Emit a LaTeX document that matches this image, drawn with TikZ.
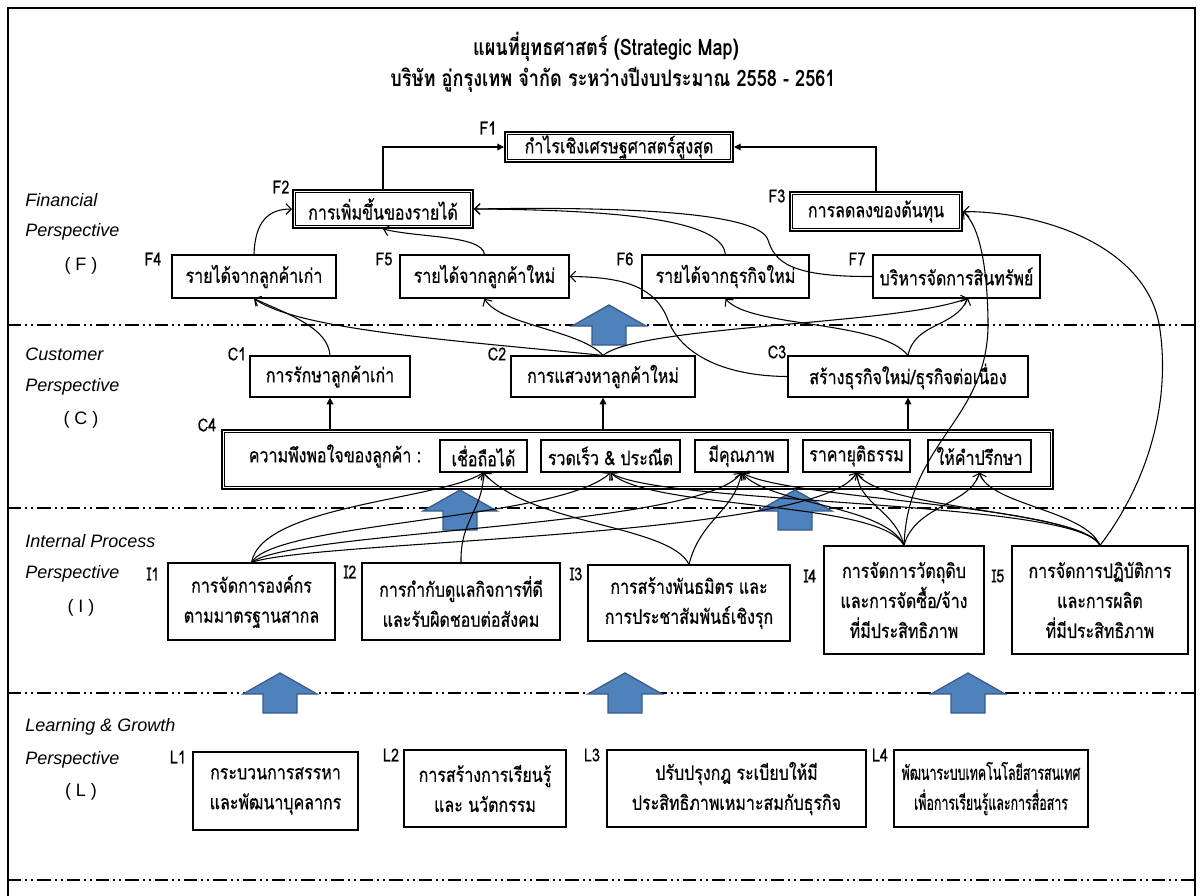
\documentclass[tikz,border=0pt]{standalone}
\usepackage{fontspec}
\setmainfont{Loma}[Script=Thai,FakeStretch=0.8,UprightFeatures={FakeBold=0.5}]
\newfontfamily\narrowthai{Loma}[Script=Thai,FakeStretch=0.62,FakeBold=0.5]
\newfontfamily\perspfam{Liberation Sans}
\usetikzlibrary{arrows.meta}
\definecolor{arrowblue}{HTML}{4F81BD}
\definecolor{arrowedge}{HTML}{385D8A}
\newcommand\boxfont{\fontsize{15}{22.5}\selectfont}
\newcommand\narrowfont{\narrowthai\fontsize{15}{22.5}\selectfont}
\newcommand\labfont{\fontsize{13.5}{15}\selectfont}
\newcommand\titlefont{\bfseries\fontsize{17}{19}\selectfont}
\newcommand\perspfont{\perspfam\itshape\fontsize{13.5}{15}\selectfont}
\newcommand\perspup{\perspfam\fontsize{13.5}{15}\selectfont}
\newcommand\innerframe[1]{\draw[line width=0.5pt] ([shift={(2.6pt,2.6pt)}]#1.south west) rectangle ([shift={(-2.6pt,-2.6pt)}]#1.north east);}
\begin{document}
\begin{tikzpicture}[x=0.75pt,y=-0.75pt,
  box/.style={draw,line width=0.9pt,fill=white,inner sep=0pt,align=center,font=\boxfont},
  dbox/.style={box,line width=1.5pt},
  lab/.style={font=\labfont,inner sep=0pt},
  persp/.style={font=\perspfont,anchor=west,inner sep=0pt},
  perspu/.style={font=\perspup,inner sep=0pt},
  cur/.style={line width=0.8pt,-{Straight Barb[length=4pt,width=8pt]}},
  farr/.style={line width=0.9pt,-{Triangle[length=5pt,width=5pt]}},
  sep/.style={line width=0.9pt,dash pattern=on 10pt off 3pt on 1.5pt off 3pt on 1.5pt off 3pt},
  uparrow/.pic={\draw[fill=arrowblue,draw=arrowedge,line width=1pt] (0,0) -- (37,21) -- (17,21) -- (17,40) -- (-17,40) -- (-17,21) -- (-37,21) -- cycle;}
]
\useasboundingbox (0,0) rectangle (1203,896);
% frame
\draw[line width=2.2pt] (8,896) -- (8,8) -- (1195,8) -- (1195,896);
% separators
\draw[sep] (8,325) -- (1195,325);
\draw[sep] (8,508) -- (1195,508);
\draw[sep] (8,693) -- (1195,693);
\draw[sep] (8,880) -- (1195,880);
% title
\node[font=\titlefont] (t1) at (606,47) {แผนที่ยุทธศาสตร์ (Strategic Map)};
\node[font=\titlefont] (t2) at (613,80) {บริษัท อู่กรุงเทพ จำกัด ระหว่างปีงบประมาณ 2558 - 2561};
% perspective labels
\node[persp] (pf1) at (25,200) {Financial};
\node[persp] (pf2) at (25,232) {Perspective};
\node[perspu] (pf3) at (81,266) {( F )};
\node[persp] (pc1) at (25,354) {Customer};
\node[persp] (pc2) at (25,387) {Perspective};
\node[perspu] (pc3) at (81,420) {( C )};
\node[persp] (pi1) at (25,541) {Internal Process};
\node[persp] (pi2) at (25,574) {Perspective};
\node[perspu] (pi3) at (81,608) {( I )};
\node[persp] (pl1) at (25,727) {Learning \& Growth};
\node[persp] (pl2) at (25,760) {Perspective};
\node[perspu] (pl3) at (81,792) {( L )};
% F level
\node[dbox,minimum width=171pt,minimum height=22.5pt] (F1) at (619,147) {กำไรเชิงเศรษฐศาสตร์สูงสุด};
\node[dbox,minimum width=135pt,minimum height=28.5pt] (F2) at (383,209) {การเพิ่มขึ้นของรายได้};
\node[dbox,minimum width=129pt,minimum height=29.25pt] (F3) at (876,211.5) {การลดลงของต้นทุน};
\innerframe{F1}\innerframe{F2}\innerframe{F3}
\node[box,minimum width=123pt,minimum height=32.25pt] (F4) at (254,276.5) {รายได้จากลูกค้าเก่า};
\node[box,minimum width=126.75pt,minimum height=32.25pt] (F5) at (484.5,276.5) {รายได้จากลูกค้าใหม่};
\node[box,minimum width=125.25pt,minimum height=32.25pt] (F6) at (725.5,276.5) {รายได้จากธุรกิจใหม่};
\node[box,minimum width=125.25pt,minimum height=32.25pt] (F7) at (956.5,276.5) {บริหารจัดการสินทรัพย์};
\node[lab] (lF1) at (488,128) {F1};
\node[lab] (lF2) at (281,187) {F2};
\node[lab] (lF3) at (777,196) {F3};
\node[lab] (lF4) at (153,259) {F4};
\node[lab] (lF5) at (384,259) {F5};
\node[lab] (lF6) at (625,259) {F6};
\node[lab] (lF7) at (857,259) {F7};
\coordinate (F7b) at (968,298);
% C level
\node[box,minimum width=120pt,minimum height=30.75pt] (C1) at (330,376.5) {การรักษาลูกค้าเก่า};
\node[box,minimum width=138pt,minimum height=30.75pt] (C2) at (603,376.5) {การแสวงหาลูกค้าใหม่};
\node[box,minimum width=180pt,minimum height=30.75pt] (C3) at (908,376.5) {สร้างธุรกิจใหม่/ธุรกิจต่อเนื่อง};
\node[dbox,minimum width=623.25pt,minimum height=44.25pt] (C4) at (637.5,459.5) {};
\innerframe{C4}
\node[font=\boxfont,inner sep=0pt] (C4t) at (335,456) {ความพึงพอใจของลูกค้า :};
\node[box,minimum width=65.25pt,minimum height=24pt] (s1) at (483.5,456) {เชื่อถือได้};
\node[box,minimum width=104.25pt,minimum height=24pt] (s2) at (610.5,456) {รวดเร็ว \& ประณีต};
\node[box,minimum width=69.75pt,minimum height=24pt] (s3) at (741.5,456) {มีคุณภาพ};
\node[box,minimum width=80.25pt,minimum height=24pt] (s4) at (856.5,456) {ราคายุติธรรม};
\node[box,minimum width=77.25pt,minimum height=24pt] (s5) at (979.5,456) {ให้คำปรึกษา};
\node[lab] (lC1) at (237,354) {C1};
\node[lab] (lC2) at (497,354) {C2};
\node[lab] (lC3) at (777,352) {C3};
\node[lab] (lC4) at (207,425) {C4};
% I level
\node[box,minimum width=125.25pt,minimum height=57.75pt] (I1) at (251.5,601.5) {การจัดการองค์กร\\ตามมาตรฐานสากล};
\node[box,minimum width=148.5pt,minimum height=57.75pt] (I2) at (461,601.5) {การกำกับดูแลกิจการที่ดี\\และรับผิดชอบต่อสังคม};
\node[box,minimum width=151.5pt,minimum height=57pt] (I3) at (689,603) {การสร้างพันธมิตร และ\\การประชาสัมพันธ์เชิงรุก};
\node[box,minimum width=120pt,minimum height=81pt] (I4) at (904,600) {การจัดการวัตถุดิบ\\และการจัดซื้อ/จ้าง\\ที่มีประสิทธิภาพ};
\node[box,minimum width=132pt,minimum height=81pt] (I5) at (1100,600) {การจัดการปฏิบัติการ\\และการผลิต\\ที่มีประสิทธิภาพ};
\node[lab] (lI1) at (153,574) {I1};
\node[lab] (lI2) at (350,572) {I2};
\node[lab] (lI3) at (576,574) {I3};
\node[lab] (lI4) at (810,576) {I4};
\node[lab] (lI5) at (998,576) {I5};
% L level
\node[box,minimum width=123.75pt,minimum height=58.5pt] (L1) at (275.5,791) {กระบวนการสรรหา\\และพัฒนาบุคลากร};
\node[box,minimum width=121.5pt,minimum height=57.75pt] (L2) at (485,788.5) {การสร้างการเรียนรู้\\และ นวัตกรรม};
\node[box,minimum width=194.25pt,minimum height=57.75pt] (L3) at (736.5,788.5) {ปรับปรุงกฎ ระเบียบให้มี\\ประสิทธิภาพเหมาะสมกับธุรกิจ};
\node[box,font=\narrowfont,minimum width=145.5pt,minimum height=57.75pt] (L4) at (991,788.5) {พัฒนาระบบเทคโนโลยีสารสนเทศ\\เพื่อการเรียนรู้และการสื่อสาร};
\node[lab] (lL1) at (178,757) {L1};
\node[lab] (lL2) at (391,755) {L2};
\node[lab] (lL3) at (592,755) {L3};
\node[lab] (lL4) at (880,755) {L4};
% block arrows
\pic at (609,305) {uparrow};
\pic at (460,490) {uparrow};
\pic at (795,490) {uparrow};
\pic at (280,673) {uparrow};
\pic at (625,673) {uparrow};
\pic at (968,673) {uparrow};
% straight arrows
\draw[farr] (F2.north) |- (F1.west);
\draw[farr] (F3.north) |- (F1.east);
\draw[farr] (C1.south |- C4.north) -- (C1.south);
\draw[farr] (C2.south |- C4.north) -- (C2.south);
\draw[farr] (C3.south |- C4.north) -- (C3.south);
% F level curves
\draw[cur] (F4.north) .. controls (255,222) and (268,209) .. (F2.west);
\draw[cur] (F5.north) .. controls (482,235) and (420,238) .. (F2.south);
\draw[cur] (F6.north) .. controls (722,225) and (650,210) .. (F2.east);
\draw[cur] (F7.west) .. controls (790,277) and (775,262) .. (768,240) .. controls (760,215) and (650,206) .. (F2.east);
% C to F
\draw[cur] (C1.north) .. controls (328,328) and (290,315) .. (F4.south);
\draw[cur] (C2.north) .. controls (450,340) and (300,330) .. (F4.south);
\draw[cur] (C2.north) .. controls (580,330) and (500,325) .. (F5.south);
\draw[cur] (C2.north) .. controls (640,325) and (900,325) .. (F7b);
\draw[cur] (C3.north) .. controls (880,320) and (750,328) .. (F6.south);
\draw[cur] (C3.north) .. controls (915,322) and (955,328) .. (F7b);
\draw[cur] (C3.west) .. controls (720,376) and (680,352) .. (668,320) .. controls (655,285) and (620,277) .. (F5.east);
% I to C4
\draw[cur] (I1.north) .. controls (262,505) and (440,500) .. (s1.south);
\draw[cur] (I1.north) .. controls (275,522) and (560,520) .. (s2.south);
\draw[cur] (I1.north) .. controls (295,530) and (700,528) .. (s3.south);
\draw[cur] (I1.north) .. controls (315,540) and (820,538) .. (s4.south);
\draw[cur] (I2.north) .. controls (460,520) and (483,510) .. (s1.south);
\draw[cur] (I3.north) .. controls (670,525) and (530,525) .. (s1.south);
\draw[cur] (I3.north) .. controls (700,520) and (735,510) .. (s3.south);
\draw[cur] (I4.north) .. controls (880,500) and (650,510) .. (s2.south);
\draw[cur] (I4.north) .. controls (885,505) and (770,505) .. (s3.south);
\draw[cur] (I4.north) .. controls (895,510) and (860,505) .. (s4.south);
\draw[cur] (I4.north) .. controls (915,505) and (970,505) .. (s5.south);
\draw[cur] (I5.north) .. controls (1080,500) and (660,505) .. (s2.south);
\draw[cur] (I5.north) .. controls (1080,505) and (790,500) .. (s3.south);
\draw[cur] (I5.north) .. controls (1080,510) and (880,510) .. (s4.south);
\draw[cur] (I5.north) .. controls (1085,510) and (990,505) .. (s5.south);
% I to F3
\draw[cur] (I4.north) .. controls (908,440) and (990,420) .. (988,320) .. controls (987,260) and (978,225) .. (F3.east);
\draw[cur] (I5.north) .. controls (1150,480) and (1170,400) .. (1160,330) .. controls (1150,250) and (1050,212) .. (F3.east);
\end{tikzpicture}
\end{document}
